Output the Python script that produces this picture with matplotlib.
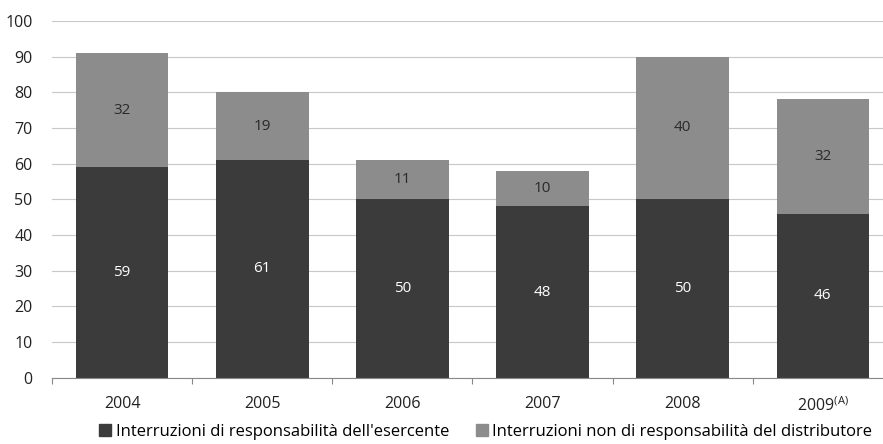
import matplotlib
matplotlib.use("Agg")
import matplotlib.pyplot as plt
from matplotlib.patches import Patch
import numpy as np

plt.rcParams['font.family'] = ['Open Sans', 'DejaVu Sans']

# data
years = ['2004', '2005', '2006', '2007', '2008', '2009$^{\\mathregular{(A)}}$']
esercente = [59, 61, 50, 48, 50, 46]
non_distributore = [32, 19, 11, 10, 40, 32]

dark = '#3b3b3b'
grey = '#8c8c8c'

fig = plt.figure(figsize=(8.83, 4.44), dpi=100)
ax = fig.add_axes([0.059, 0.149, 0.941, 0.804])

x = np.arange(len(years))
w = 0.66
ax.bar(x, esercente, w, color=dark, zorder=3)
ax.bar(x, non_distributore, w, bottom=esercente, color=grey, zorder=3)

# value labels in the middle of each segment
for i in range(len(years)):
    ax.text(x[i], esercente[i] / 2, str(esercente[i]), ha='center', va='center',
            color='white', fontsize=11, zorder=4)
    ax.text(x[i], esercente[i] + non_distributore[i] / 2, str(non_distributore[i]),
            ha='center', va='center', color='#2a2a2a', fontsize=11, zorder=4)

ax.set_ylim(0, 100)
ax.set_xlim(-0.49, 5.43)
ax.set_yticks(range(0, 101, 10))
ax.yaxis.grid(True, color='#c8c8c8', linewidth=0.8, zorder=0)
ax.tick_params(axis='y', length=0, labelsize=11.5, pad=14, colors='#222222')

# ticks between categories, labels centred under bars
ax.set_xticks(np.arange(-0.5, 5.5, 1.0))
ax.set_xticklabels([])
ax.set_xticks(x, minor=True)
ax.set_xticklabels(years, minor=True, fontsize=11.5, color='#222222')
ax.tick_params(axis='x', which='major', length=4, direction='out', color='#888888')
ax.tick_params(axis='x', which='minor', length=0, pad=13)

for s in ['top', 'right', 'left']:
    ax.spines[s].set_visible(False)
ax.spines['bottom'].set_color('#888888')
ax.spines['bottom'].set_zorder(5)

handles = [Patch(color=dark, label="Interruzioni di responsabilità dell'esercente"),
           Patch(color=grey, label="Interruzioni non di responsabilità del distributore")]
fig.legend(handles=handles, loc='lower center', bbox_to_anchor=(0.55, -0.025), ncol=2,
           frameon=False, fontsize=12, handlelength=0.75, handleheight=0.75,
           handletextpad=0.25, columnspacing=1.6)

fig.savefig('out.png', dpi=100)
